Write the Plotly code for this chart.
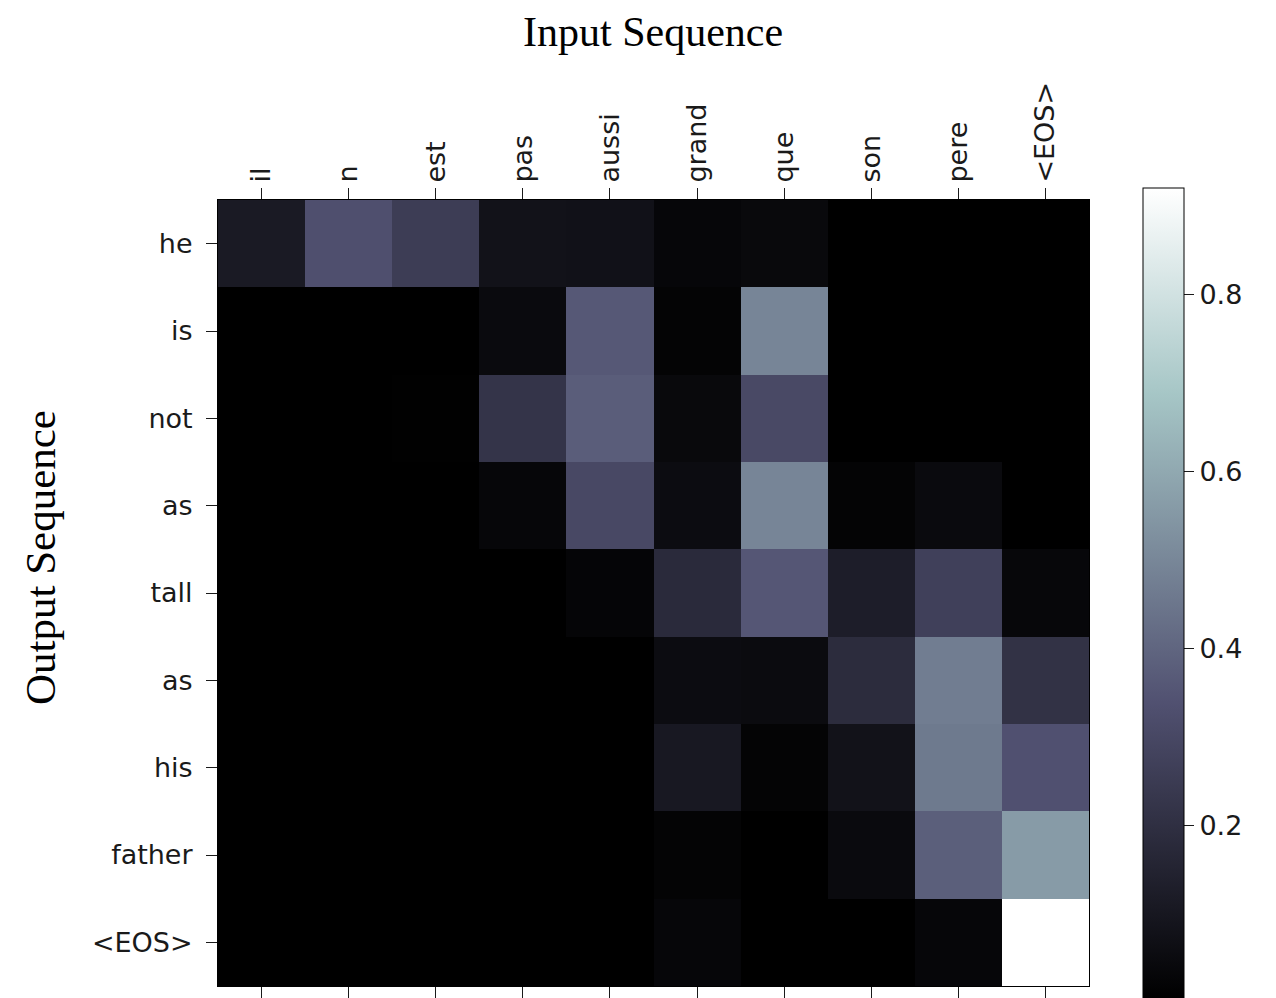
import html
import plotly.graph_objects as go

# ---- data ----
input_tokens = ["il", "n", "est", "pas", "aussi", "grand", "que", "son", "pere", "<EOS>"]
output_tokens = ["he", "is", "not", "as", "tall", "as", "his", "father", "<EOS>"]

row_he     = [0.110, 0.330, 0.255, 0.080, 0.075, 0.030, 0.040, 0.003, 0.003, 0.003]
row_is     = [0.002, 0.002, 0.002, 0.045, 0.360, 0.020, 0.495, 0.002, 0.002, 0.002]
row_not    = [0.002, 0.002, 0.008, 0.220, 0.375, 0.040, 0.305, 0.002, 0.002, 0.002]
row_as     = [0.002, 0.002, 0.002, 0.030, 0.300, 0.055, 0.495, 0.020, 0.045, 0.002]
row_tall   = [0.001, 0.001, 0.001, 0.002, 0.025, 0.178, 0.355, 0.125, 0.270, 0.035]
row_as2    = [0.001, 0.001, 0.001, 0.001, 0.002, 0.055, 0.050, 0.185, 0.470, 0.210]
row_his    = [0.001, 0.001, 0.001, 0.001, 0.001, 0.105, 0.020, 0.080, 0.460, 0.335]
row_father = [0.001, 0.001, 0.001, 0.001, 0.001, 0.020, 0.003, 0.045, 0.380, 0.560]
row_eos    = [0.001, 0.001, 0.001, 0.001, 0.001, 0.030, 0.002, 0.002, 0.030, 0.920]

attention = [row_he, row_is, row_not, row_as, row_tall, row_as2, row_his, row_father, row_eos]

colorbar_ticks = [0.2, 0.4, 0.6, 0.8]

# matplotlib "bone" colormap
bone = [
    [0.0, "rgb(0,0,0)"],
    [0.365079, "rgb(81,81,113)"],
    [0.746032, "rgb(166,198,198)"],
    [1.0, "rgb(255,255,255)"],
]

# the page body has an 8px margin, so the figure is laid out 8px up/left
OFF = 8
W, H = 1276 - OFF, 998 - OFF
L, T = 218 - OFF, 200 - OFF
R = W - (1089 - OFF)
B = H - (986 - OFF)
plot_w = W - L - R
plot_h = H - T - B

txt = "#1a1a1a"
tick_font = dict(family="DejaVu Sans", size=27, color=txt)

cb_top = 188 - OFF
fig = go.Figure(
    go.Heatmap(
        z=attention,
        x=list(range(len(input_tokens))),
        y=list(range(len(output_tokens))),
        colorscale=bone,
        zmin=0.0045,
        zmax=0.921,
        colorbar=dict(
            x=(1143 - OFF - L) / plot_w,
            xanchor="left",
            xpad=0,
            y=(H - B - cb_top) / plot_h,
            yanchor="top",
            ypad=0,
            lenmode="pixels",
            len=H - cb_top,
            thickness=41,
            outlinecolor="black",
            outlinewidth=1,
            tickvals=colorbar_ticks,
            ticktext=[f"{v:.1f}" for v in colorbar_ticks],
            ticks="outside",
            ticklen=10,
            tickcolor=txt,
            tickfont=tick_font,
        ),
        hoverinfo="skip",
    )
)

fig.update_layout(
    width=W,
    height=H,
    margin=dict(l=L, r=R, t=T, b=B, autoexpand=False),
    paper_bgcolor="white",
    plot_bgcolor="white",
    xaxis=dict(
        side="top",
        range=[-0.5, len(input_tokens) - 0.5],
        tickvals=list(range(len(input_tokens))),
        ticktext=[html.escape(t) for t in input_tokens],
        tickangle=-90,
        ticks="outside",
        ticklen=11,
        tickcolor=txt,
        tickfont=tick_font,
        showline=True,
        linecolor="black",
        linewidth=1,
        mirror="ticks",
        showgrid=False,
        zeroline=False,
        ticklabelstandoff=0,
        automargin=False,
    ),
    yaxis=dict(
        range=[len(output_tokens) - 0.5, -0.5],
        tickvals=list(range(len(output_tokens))),
        ticktext=[html.escape(t) for t in output_tokens],
        ticks="outside",
        ticklen=11,
        tickcolor=txt,
        tickfont=tick_font,
        showline=True,
        linecolor="black",
        linewidth=1,
        mirror=True,
        showgrid=False,
        zeroline=False,
        ticklabelstandoff=8,
        automargin=False,
    ),
    annotations=[
        dict(
            text="Input Sequence",
            xref="paper", yref="paper",
            x=(653 - OFF - L) / plot_w, y=(H - B) / plot_h,
            xanchor="center", yanchor="top",
            showarrow=False,
            borderpad=0,
            font=dict(family="Liberation Serif", size=42, color="black"),
        ),
        dict(
            text="Output Sequence",
            xref="paper", yref="paper",
            x=(40 - OFF - L) / plot_w, y=(H - B - (558 - OFF)) / plot_h,
            xanchor="center", yanchor="middle",
            textangle=-90,
            showarrow=False,
            font=dict(family="Liberation Serif", size=43, color="black"),
        ),
    ],
)

fig.write_html("out.html")
